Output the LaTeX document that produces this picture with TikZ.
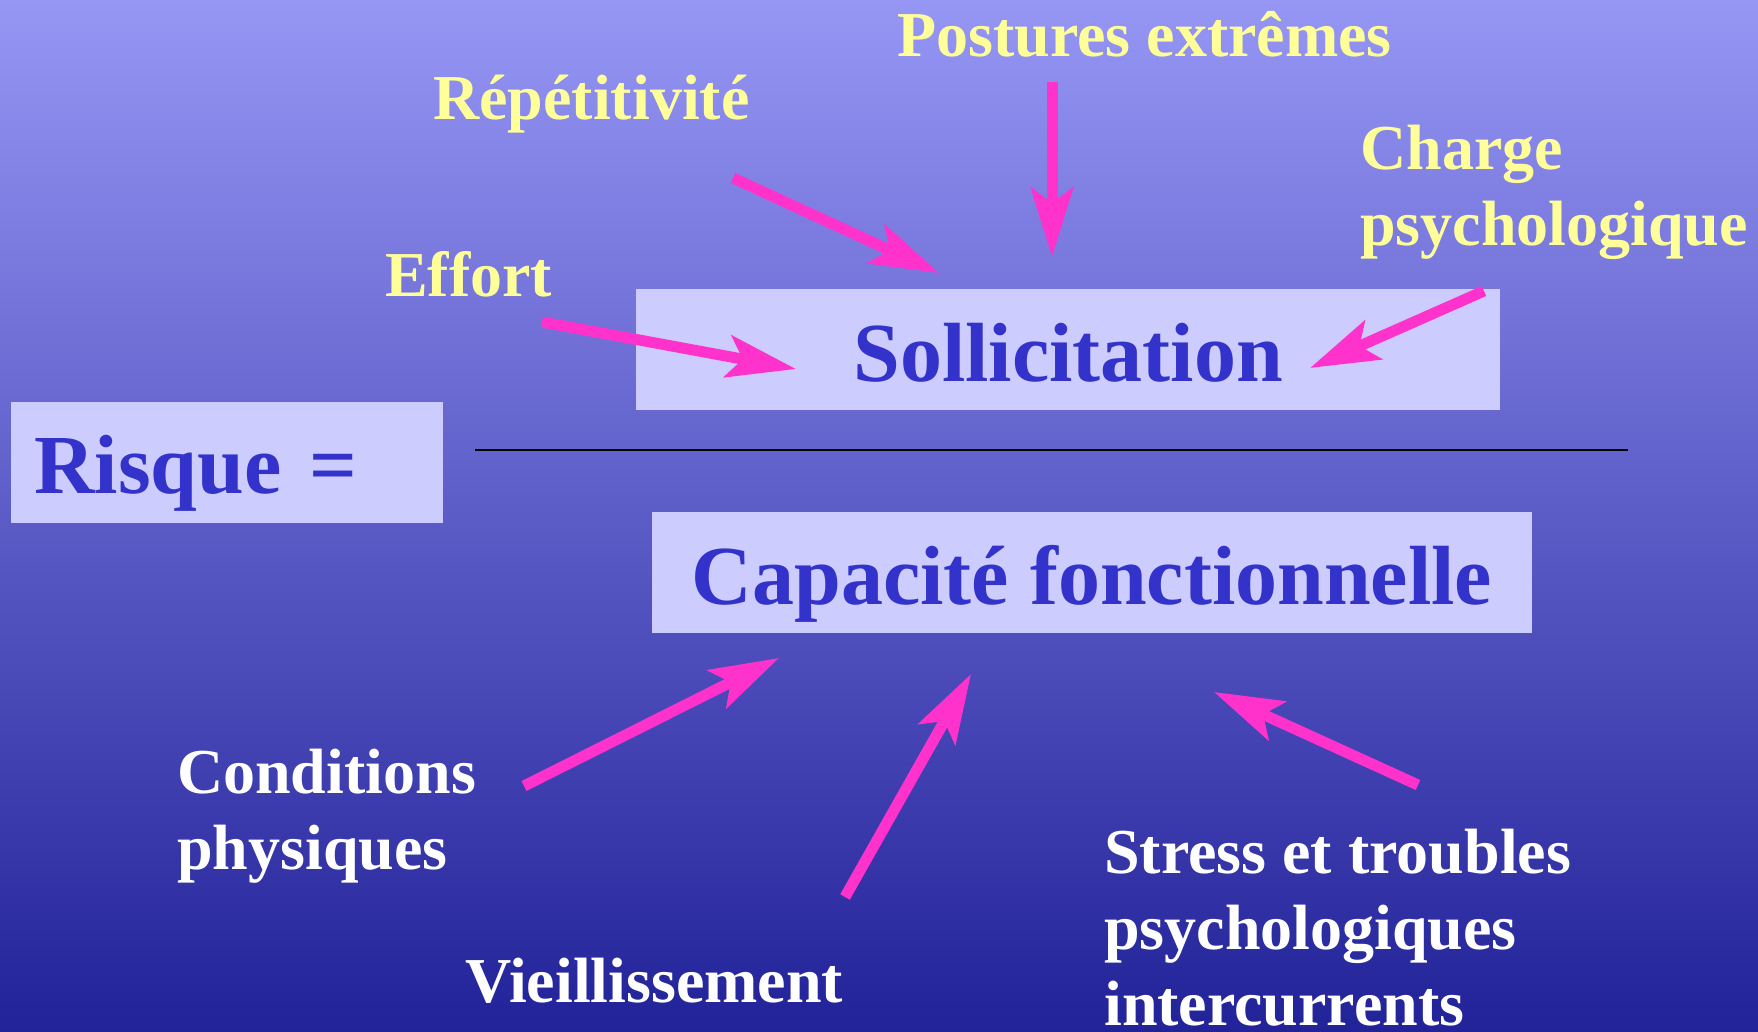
\documentclass[tikz,border=0pt]{standalone}
\usepackage{fontspec}
\setmainfont{Liberation Serif}
\usetikzlibrary{arrows.meta}

\definecolor{bgtop}{RGB}{150,150,245}
\definecolor{bgbottom}{RGB}{34,34,153}
\definecolor{boxfill}{RGB}{204,204,255}
\definecolor{termblue}{RGB}{51,51,204}
\definecolor{factoryellow}{RGB}{255,255,153}
\definecolor{arrowpink}{RGB}{255,51,204}

\newcommand{\linesof}[1]{\begin{tabular}[t]{@{}l@{}}#1\end{tabular}}

\tikzset{
  termbox/.style={fill=boxfill, draw=none, inner xsep=0pt, inner ysep=0pt,
    text height=92pt, text depth=29pt, text=termblue,
    font=\fontsize{84}{100}\selectfont\bfseries},
  strain/.style={inner sep=0pt, anchor=base west, text=factoryellow,
    font=\fontsize{64}{76}\selectfont\bfseries},
  capacity/.style={inner sep=0pt, anchor=base west, text=white,
    font=\fontsize{64}{76}\selectfont\bfseries},
  push/.style={draw=arrowpink, line width=11pt,
    -{Stealth[length=69pt, width=42pt, inset=15pt]}},
  fractionbar/.style={draw=black, line width=2pt}
}

\begin{document}
\begin{tikzpicture}[x=1pt, y=-1pt]
  \useasboundingbox (0,0) rectangle (1758,1032);
  \shade[top color=bgtop, bottom color=bgbottom] (0,0) rectangle (1758,1032);

  % the ratio: Risque = Sollicitation / Capacite fonctionnelle
  \node[termbox, minimum width=864pt] (sollicitation) at (1068,349.5) {Sollicitation};
  \node[termbox, minimum width=880pt] (capacite) at (1092,572.5) {Capacité fonctionnelle};
  \node[termbox, anchor=west, inner xsep=23pt, text width=386pt, align=left]
    (risque) at (11,462) {Risque =};
  \coordinate (barL) at (475,450);
  \coordinate (barR) at (1628,450);
  \draw[fractionbar] (barL) -- (barR);

  % factors raising the strain
  \node[strain] (postures) at (897,57) {Postures extrêmes};
  \node[strain] (repetitivite) at (433,120) {Répétitivité};
  \node[strain] (effort) at (385,297) {Effort};
  \node[strain] (charge) at (1360,170) {\linesof{Charge\\psychologique}};

  % factors lowering the capacity
  \node[capacity] (conditions) at (177,793) {\linesof{Conditions\\physiques}};
  \node[capacity] (vieillissement) at (465,1002) {Vieillissement};
  \node[capacity] (stress) at (1104,873) {\linesof{Stress et troubles\\psychologiques\\intercurrents}};

  % arrow ends
  \coordinate (postS) at (1052,82);   \coordinate (postE) at (1052,257);
  \coordinate (repS) at (733,178);    \coordinate (repE) at (939,273);
  \coordinate (effS) at (542,322);    \coordinate (effE) at (796,369);
  \coordinate (chgS) at (1484,291);   \coordinate (chgE) at (1310,368);
  \coordinate (condS) at (524,786);   \coordinate (condE) at (779,658);
  \coordinate (vieS) at (845,897);    \coordinate (vieE) at (971,674);
  \coordinate (strS) at (1418,785);   \coordinate (strE) at (1214,692);

  \draw[push] (postS) -- (postE);
  \draw[push] (repS) -- (repE);
  \draw[push] (effS) -- (effE);
  \draw[push] (chgS) -- (chgE);
  \draw[push] (condS) -- (condE);
  \draw[push] (vieS) -- (vieE);
  \draw[push] (strS) -- (strE);
\end{tikzpicture}
\end{document}
